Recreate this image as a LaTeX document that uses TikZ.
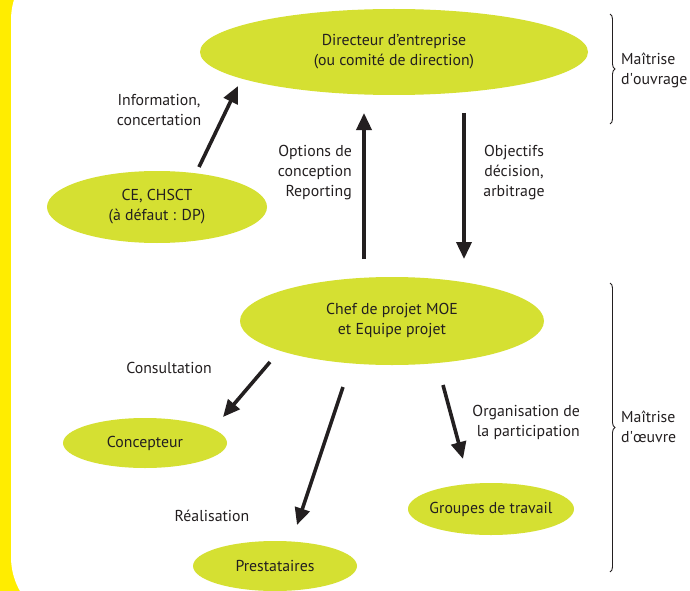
\documentclass[tikz,border=0pt]{standalone}
\usepackage{fontspec}
\setmainfont{PT Sans}
\usetikzlibrary{arrows.meta,decorations.pathreplacing,shapes.geometric}
\definecolor{lime}{RGB}{213,224,50}
\definecolor{sideyellow}{RGB}{255,237,0}
\definecolor{txt}{RGB}{35,31,32}
\begin{document}
\begin{tikzpicture}[x=1pt,y=-1pt, font=\fontsize{15.8}{20}\selectfont, text=txt,
  blob/.style={ellipse, fill=lime, inner sep=0pt, align=center},
  arr/.style={line width=3.6pt, draw=txt, -{Triangle[length=17pt,width=15pt]}},
  lbl/.style={inner sep=0pt},
  brc/.style={decorate, decoration={brace, amplitude=5pt}, line width=0.9pt, draw=txt}]
\useasboundingbox (0,0) rectangle (690,591);
\begin{scope}
\clip (0,0) rectangle (690,591);
\fill[fill=sideyellow] (0,0) rectangle (60,591);
\fill[fill=white, rounded corners=69pt] (11,-49) rectangle (760,626);
\end{scope}

\node[blob, minimum width=388pt, minimum height=86pt] (dir) at (394,52) {Directeur d’entreprise\\(ou comité de direction)};
\node[blob, minimum width=220pt, minimum height=72pt] (ce) at (157,207) {CE, CHSCT\\(à défaut : DP)};
\node[blob, minimum width=304pt, minimum height=88pt] (chef) at (392,321) {Chef de projet MOE\\et Equipe projet};
\node[blob, minimum width=164pt, minimum height=50pt, inner xsep=-10pt] (conc) at (145,443) {Concepteur};
\node[blob, minimum width=164pt, minimum height=50pt, inner xsep=-10pt] (prest) at (275,566) {Prestataires};
\node[blob, minimum width=166pt, minimum height=52pt, inner xsep=-12pt, inner ysep=-4pt] (grp) at (491,509) {Groupes de travail};

\coordinate (a1s) at (199,167); \coordinate (a1e) at (238,86);
\coordinate (a2s) at (364,259); \coordinate (a2e) at (364,113);
\coordinate (a3s) at (464,113); \coordinate (a3e) at (464,259);
\coordinate (a4s) at (270,362); \coordinate (a4e) at (223,417);
\coordinate (a5s) at (343,387); \coordinate (a5e) at (297,525);
\coordinate (a6s) at (443,385); \coordinate (a6e) at (463,459);
\draw[arr] (a1s) -- (a1e);
\draw[arr] (a2s) -- (a2e);
\draw[arr] (a3s) -- (a3e);
\draw[arr] (a4s) -- (a4e);
\draw[arr] (a5s) -- (a5e);
\draw[arr] (a6s) -- (a6e);

\node[lbl, align=center] (l1) at (159,110) {Information,\\concertation};
\node[lbl, align=right, anchor=east] (l2) at (352,173) {Options de\\conception\\Reporting};
\node[lbl, align=center] (l3) at (514,173) {Objectifs\\décision,\\arbitrage};
\node[lbl] (l4) at (169,368) {Consultation};
\node[lbl, align=right, anchor=east] (l5) at (580,422) {Organisation de\\la participation};
\node[lbl] (l6) at (212,516) {Réalisation};

\coordinate (b1t) at (610,14); \coordinate (b1b) at (610,124);
\coordinate (b2t) at (610,283); \coordinate (b2b) at (610,572);
\draw[brc] (b1t) -- (b1b);
\draw[brc] (b2t) -- (b2b);
\node[lbl, align=left, anchor=west] (m1) at (621,70) {Maîtrise\\d\textquotesingle ouvrage};
\node[lbl, align=left, anchor=west] (m2) at (621,427) {Maîtrise\\d\textquotesingle œuvre};
\end{tikzpicture}
\end{document}
